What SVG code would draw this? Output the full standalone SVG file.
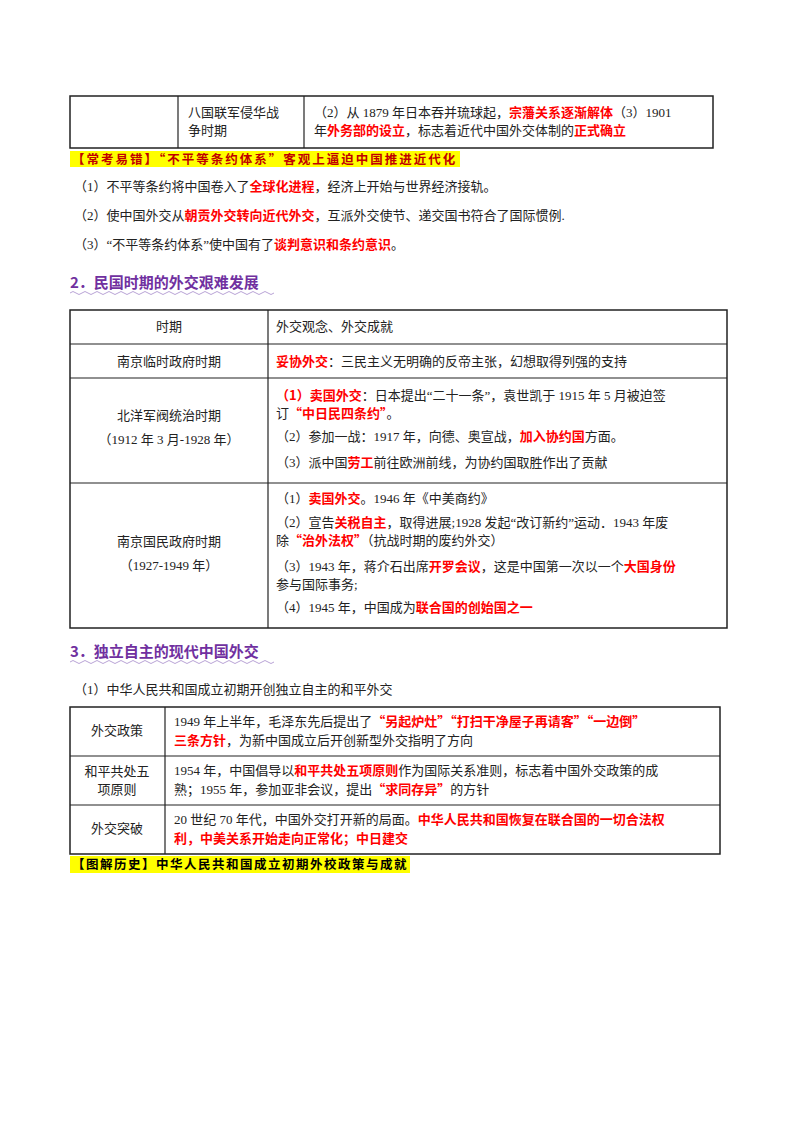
<svg xmlns="http://www.w3.org/2000/svg" width="800" height="1132" viewBox="0 0 800 1132">
<style>
text{font-family:"Liberation Serif","Noto Sans CJK SC",serif;font-size:13px;fill:#222}
.r{fill:#ff0000;font-weight:bold;font-family:"Noto Sans CJK SC",sans-serif}
.b{fill:#c00000;font-weight:bold;font-family:"Noto Sans CJK SC",sans-serif;font-size:12.5px;letter-spacing:2px}
.bk{fill:#000;font-weight:bold;font-family:"Noto Sans CJK SC",sans-serif;font-size:12.5px;letter-spacing:1.5px}
.h{fill:#7030a0;font-weight:bold;font-family:"Noto Sans CJK SC",sans-serif;font-size:15px}
.c{text-anchor:middle}
.t{fill:none;stroke:#222;stroke-width:1.5}
.l{stroke:#222;stroke-width:1.2}
.w{fill:none;stroke:#b9a3d6;stroke-width:1}
</style>
<rect width="800" height="1132" fill="#fff"/>
<g id="table1">
<rect class="t" x="70" y="96" width="643" height="52"/>
<line class="l" x1="178" y1="96" x2="178" y2="148"/><line class="l" x1="304" y1="96" x2="304" y2="148"/>
<text x="188" y="117">八国联军侵华战</text><text x="188" y="135">争时期</text>
<text x="314" y="117">（2）从 1879 年日本吞并琉球起，<tspan class="r">宗藩关系逐渐解体</tspan>（3）1901</text>
<text x="314" y="135">年<tspan class="r">外务部的设立</tspan>，标志着近代中国外交体制的<tspan class="r">正式确立</tspan></text>
</g>
<g id="banner1">
<rect x="70" y="151" width="390" height="16" fill="#ffff00"/>
<text class="b" x="72" y="164">【常考易错】“不平等条约体系”客观上逼迫中国推进近代化</text>
</g>
<g id="notes1">
<text x="74" y="191">（1）不平等条约将中国卷入了<tspan class="r">全球化进程</tspan>，经济上开始与世界经济接轨。</text>
<text x="74" y="220">（2）使中国外交从<tspan class="r">朝贡外交转向近代外交</tspan>，互派外交使节、递交国书符合了国际惯例.</text>
<text x="74" y="249">（3）“不平等条约体系”使中国有了<tspan class="r">谈判意识和条约意识</tspan>。</text>
</g>
<g id="heading2">
<text class="h" x="70" y="288">2．民国时期的外交艰难发展</text>
<path class="w" d="M70 293 q3 -3 6 0 t6 0 t6 0 t6 0 t6 0 t6 0 t6 0 t6 0 t6 0 t6 0 t6 0 t6 0 t6 0 t6 0 t6 0 t6 0 t6 0 t6 0 t6 0 t6 0 t6 0 t6 0 t6 0 t6 0 t6 0 t6 0 t6 0 t6 0 t6 0 t6 0 t6 0 t6 0 t6 0 t6 0"/>
</g>
<g id="table2">
<rect class="t" x="70" y="310" width="657" height="318"/>
<line class="l" x1="268" y1="310" x2="268" y2="628"/>
<line class="l" x1="70" y1="344" x2="727" y2="344"/>
<line class="l" x1="70" y1="378" x2="727" y2="378"/>
<line class="l" x1="70" y1="483" x2="727" y2="483"/>
<text class="c" x="169" y="331">时期</text><text x="276" y="331">外交观念、外交成就</text>
<text class="c" x="169" y="366">南京临时政府时期</text>
<text x="276" y="366"><tspan class="r">妥协外交</tspan>：三民主义无明确的反帝主张，幻想取得列强的支持</text>
<text class="c" x="169" y="420">北洋军阀统治时期</text><text class="c" x="169" y="444">（1912 年 3 月-1928 年）</text>
<text x="276" y="400"><tspan class="r">（1）卖国外交</tspan>：日本提出“二十一条”，袁世凯于 1915 年 5 月被迫签</text>
<text x="276" y="418">订<tspan class="r">“中日民四条约”</tspan>。</text>
<text x="276" y="441">（2）参加一战：1917 年，向德、奥宣战，<tspan class="r">加入协约国</tspan>方面。</text>
<text x="276" y="467">（3）派中国<tspan class="r">劳工</tspan>前往欧洲前线，为协约国取胜作出了贡献</text>
<text class="c" x="169" y="546">南京国民政府时期</text><text class="c" x="169" y="570">（1927-1949 年）</text>
<text x="276" y="503">（1）<tspan class="r">卖国外交</tspan>。1946 年《中美商约》</text>
<text x="276" y="527">（2）宣告<tspan class="r">关税自主</tspan>，取得进展;1928 发起“改订新约”运动．1943 年废</text>
<text x="276" y="545">除<tspan class="r">“治外法权”</tspan>（抗战时期的废约外交）</text>
<text x="276" y="571">（3）1943 年，蒋介石出席<tspan class="r">开罗会议</tspan>，这是中国第一次以一个<tspan class="r">大国身份</tspan></text>
<text x="276" y="589">参与国际事务;</text>
<text x="276" y="612">（4）1945 年，中国成为<tspan class="r">联合国的创始国之一</tspan></text>
</g>
<g id="heading3">
<text class="h" x="70" y="657">3．独立自主的现代中国外交</text>
<path class="w" d="M70 662 q3 -3 6 0 t6 0 t6 0 t6 0 t6 0 t6 0 t6 0 t6 0 t6 0 t6 0 t6 0 t6 0 t6 0 t6 0 t6 0 t6 0 t6 0 t6 0 t6 0 t6 0 t6 0 t6 0 t6 0 t6 0 t6 0 t6 0 t6 0 t6 0 t6 0 t6 0 t6 0 t6 0 t6 0 t6 0"/>
</g>
<text x="74" y="694">（1）中华人民共和国成立初期开创独立自主的和平外交</text>
<g id="table3">
<rect class="t" x="70" y="707" width="650" height="147"/>
<line class="l" x1="165" y1="707" x2="165" y2="854"/>
<line class="l" x1="70" y1="756" x2="720" y2="756"/>
<line class="l" x1="70" y1="805" x2="720" y2="805"/>
<text class="c" x="117" y="735">外交政策</text>
<text x="174" y="726">1949 年上半年，毛泽东先后提出了<tspan class="r">“另起炉灶”“打扫干净屋子再请客”“一边倒”</tspan></text>
<text x="174" y="745"><tspan class="r">三条方针</tspan>，为新中国成立后开创新型外交指明了方向</text>
<text class="c" x="117" y="776">和平共处五</text><text class="c" x="117" y="794">项原则</text>
<text x="174" y="775">1954 年，中国倡导以<tspan class="r">和平共处五项原则</tspan>作为国际关系准则，标志着中国外交政策的成</text>
<text x="174" y="794">熟；1955 年，参加亚非会议，提出<tspan class="r">“求同存异”</tspan>的方针</text>
<text class="c" x="117" y="833">外交突破</text>
<text x="174" y="824">20 世纪 70 年代，中国外交打开新的局面。<tspan class="r">中华人民共和国恢复在联合国的一切合法权</tspan></text>
<text x="174" y="843"><tspan class="r">利，中美关系开始走向正常化；中日建交</tspan></text>
</g>
<g id="banner2">
<rect x="70" y="856" width="340" height="17" fill="#ffff00"/>
<text class="bk" x="72" y="869">【图解历史】中华人民共和国成立初期外校政策与成就</text>
</g>
</svg>
